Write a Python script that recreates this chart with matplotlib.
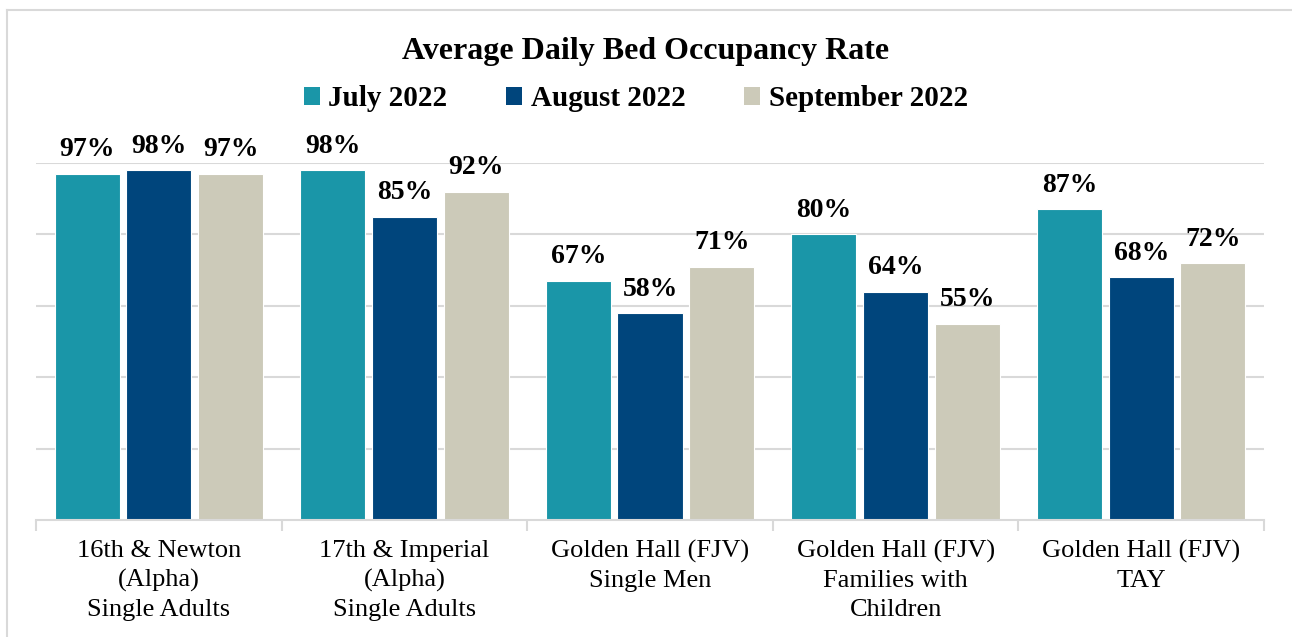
import matplotlib.pyplot as plt
import numpy as np
from matplotlib.lines import Line2D
from matplotlib.patches import Patch

plt.rcParams['font.family'] = ['Liberation Serif', 'DejaVu Serif']

categories = ['16th & Newton\n(Alpha)\nSingle Adults',
              '17th & Imperial\n(Alpha)\nSingle Adults',
              'Golden Hall (FJV)\nSingle Men',
              'Golden Hall (FJV)\nFamilies with\nChildren',
              'Golden Hall (FJV)\nTAY']
series_names = ['July 2022', 'August 2022', 'September 2022']
july = [97, 98, 67, 80, 87]
august = [98, 85, 58, 64, 68]
september = [97, 92, 71, 55, 72]

colors = ['#1A96A8', '#00457C', '#CCCAB9']
grid_c = '#D9D9D9'

fig = plt.figure(figsize=(12.92, 6.37), dpi=100)
ax = fig.add_axes([36 / 1292, 1 - 520 / 637, 1228 / 1292, 357 / 637])

x = np.arange(len(categories))
offsets = [-0.292, 0, 0.292]
width = 0.265
for vals, off, col, name in zip([july, august, september], offsets, colors, series_names):
    bars = ax.bar(x + off, vals, width, color=col, edgecolor='white', linewidth=0.8,
                  label=name, zorder=2)
    for b, v in zip(bars, vals):
        ax.text(b.get_x() + b.get_width() / 2, v + 3.2, f'{v}%', ha='center', va='bottom',
                fontsize=20, fontweight='bold', clip_on=False)

ax.set_xlim(-0.5, len(categories) - 0.5)
ax.set_ylim(0, 100)
ax.set_yticks([20, 40, 60, 80, 100])
ax.yaxis.grid(True, color=grid_c, linewidth=1.5, zorder=0)
ax.tick_params(axis='y', left=False, labelleft=False)
for s in ['top', 'right', 'left']:
    ax.spines[s].set_visible(False)
ax.spines['bottom'].set_color(grid_c)
ax.spines['bottom'].set_linewidth(1.5)

# category boundary ticks below the baseline
ax.set_xticks(np.arange(-0.5, len(categories)))
ax.set_xticklabels([])
ax.tick_params(axis='x', direction='out', length=8, width=1.5, color=grid_c)
for i, c in enumerate(categories):
    ax.text(i, -5.5, c, ha='center', va='top', fontsize=19, linespacing=1.42)

fig.text(0.5, 1 - 51 / 637, 'Average Daily Bed Occupancy Rate', ha='center', va='center',
         fontsize=23, fontweight='bold')

handles = [Patch(facecolor=c, edgecolor='none') for c in colors]
fig.legend(handles, series_names, loc='center', bbox_to_anchor=(0.492, 1 - 99 / 637),
           ncol=3, frameon=False, prop={'size': 21, 'weight': 'bold'},
           handlelength=0.55, handleheight=0.55, handletextpad=0.3, columnspacing=2.0)

# outer chart frame (left and top edges visible)
fig.add_artist(Line2D([7 / 1292, 7 / 1292], [0, 1 - 10 / 637], color=grid_c, linewidth=1.5))
fig.add_artist(Line2D([7 / 1292, 1], [1 - 10 / 637, 1 - 10 / 637], color=grid_c, linewidth=1.5))

fig.savefig('out.png', dpi=100)
